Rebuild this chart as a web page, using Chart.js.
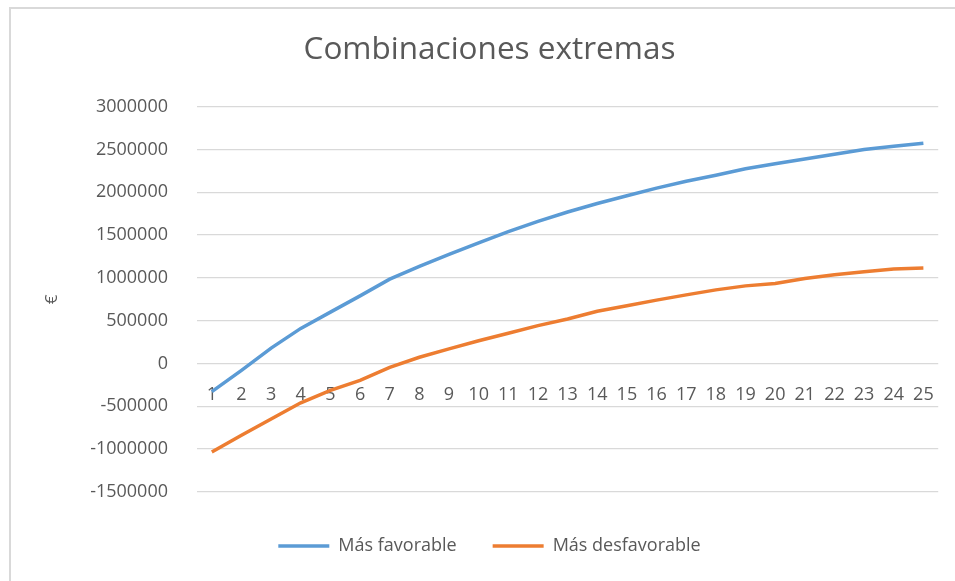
<!DOCTYPE html>
<html>
<head>
<meta charset="utf-8">
<script src="https://cdn.jsdelivr.net/npm/chart.js@4.4.0/dist/chart.umd.min.js"></script>
<style>
  body { margin: 0; background: #fff; }
  #frame { position: absolute; left: 9px; top: 7px; width: 980px; height: 600px;
           border-left: 2px solid #d9d9d9; border-top: 2px solid #d9d9d9; }
  #c { position: absolute; left: 0; top: 0; }
</style>
</head>
<body>
<div id="frame"></div>
<canvas id="c" width="955" height="581"></canvas>
<script>
// años 1..25
var years = ['1','2','3','4','5','6','7','8','9','10','11','12','13','14','15','16','17','18','19','20','21','22','23','24','25'];
var masFavorable = [-330000, -80000, 180000, 410000, 600000, 790000, 985000, 1135000, 1275000, 1410000,
                    1540000, 1660000, 1770000, 1870000, 1960000, 2050000, 2130000, 2200000, 2275000, 2335000,
                    2390000, 2445000, 2500000, 2540000, 2575000];
var masDesfavorable = [-1035000, -840000, -650000, -460000, -314000, -198000, -45000, 73000, 170000, 265000,
                       353000, 442000, 520000, 610000, 674000, 740000, 802000, 860000, 907000, 934000,
                       992000, 1038000, 1073000, 1105000, 1116000];
var yMin = -1500000, yMax = 3000000, yStep = 500000;

var grey = '#595959';
var fontName = '"Open Sans", sans-serif';

var ctx = document.getElementById('c').getContext('2d');
var chart = new Chart(ctx, {
    type: 'line',
    data: {
        labels: years,
        datasets: [{
            label: 'Más favorable',
            data: masFavorable,
            borderColor: '#5B9BD5',
            backgroundColor: '#5B9BD5',
            borderWidth: 3.5,
            pointRadius: 0,
            tension: 0
        }, {
            label: 'Más desfavorable',
            data: masDesfavorable,
            borderColor: '#ED7D31',
            backgroundColor: '#ED7D31',
            borderWidth: 3.5,
            pointRadius: 0,
            tension: 0
        }]
    },
    options: {
        responsive: false,
        animation: false,
        devicePixelRatio: 1,
        layout: { padding: { left: 40, right: 16, top: 0, bottom: 16 } },
        scales: {
            x: {
                position: { y: 0 },
                offset: true,
                grid: { display: false, drawTicks: false },
                border: { display: false },
                ticks: { color: grey, font: { family: fontName, size: 18 }, padding: 21, maxRotation: 0, autoSkip: false }
            },
            y: {
                min: yMin,
                max: yMax,
                grid: { color: '#d9d9d9', lineWidth: 1.3, drawTicks: false },
                border: { display: false },
                ticks: {
                    stepSize: yStep, color: grey, font: { family: fontName, size: 18 }, padding: 29,
                    callback: function(v) { return String(v); }
                },
                title: { display: true, text: '€', color: grey, font: { family: fontName, size: 17 }, padding: { top: 2, bottom: 0 } },
                afterFit: function(scale) { scale.width = 157; }
            }
        },
        plugins: {
            title: {
                display: true,
                text: 'Combinaciones extremas',
                color: grey,
                font: { family: fontName, size: 31.5, weight: 'normal' },
                padding: { top: 31, bottom: 38 }
            },
            legend: {
                position: 'bottom',
                title: { display: true, text: '', font: { size: 6 }, padding: { top: 0, bottom: 2 } },
                labels: {
                    color: grey,
                    font: { family: fontName, size: 18 },
                    usePointStyle: true,
                    pointStyle: 'line',
                    pointStyleWidth: 51,
                    padding: 36
                }
            },
            tooltip: { enabled: false }
        }
    }
});
</script>
</body>
</html>
